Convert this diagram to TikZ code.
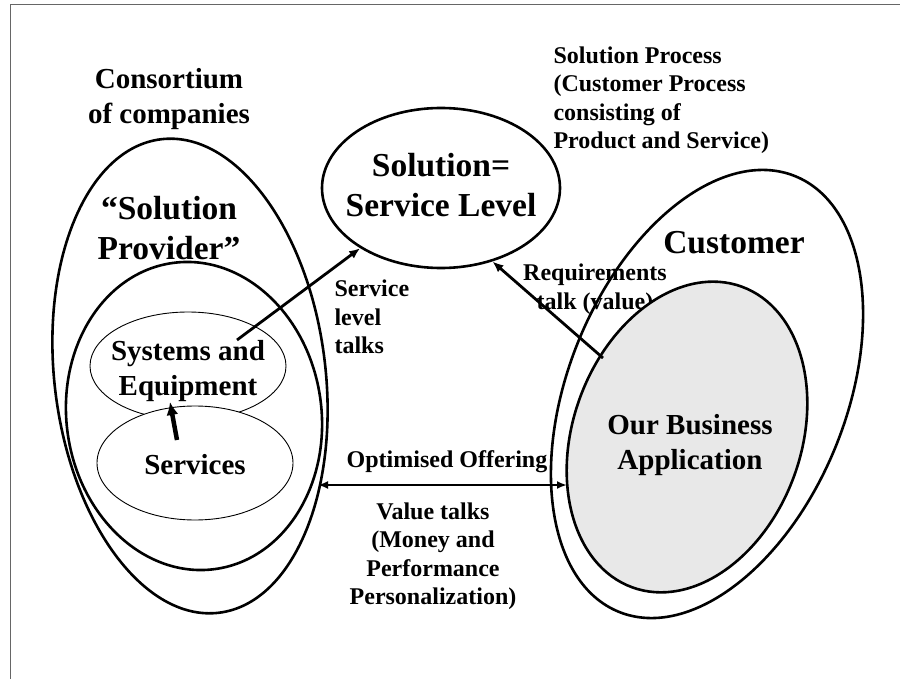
\documentclass[tikz,border=0pt]{standalone}
\usepackage{fontspec}
\setmainfont{Liberation Serif}
\usepackage{tikz}
\usetikzlibrary{shapes.geometric, arrows.meta}
\tikzstyle{bigset} =
[ellipse, inner sep=0pt, draw=black, line width=2.6pt]
\tikzstyle{smallset} =
[ellipse, inner sep=0pt, draw=black, line width=0.9pt, fill=white]
\tikzstyle{bigtext} =
[font=\fontsize{33.5}{40}\selectfont\bfseries, align=center]
\tikzstyle{midtext} =
[font=\fontsize{29}{35}\selectfont\bfseries, align=center]
\tikzstyle{talktext} =
[font=\fontsize{24}{28.5}\selectfont\bfseries, align=left]
\tikzstyle{line} = [draw, line width=2.8pt, -{Latex[length=11pt, width=9pt]}]

\begin{document}
\begin{tikzpicture}[x=1pt, y=1pt]
  \useasboundingbox (0,0) rectangle (900,-679);
  \draw [black!60, line width=1pt] (10,-679) |- (900,-5);
  % provider side
  \node [bigset, minimum width=271pt, minimum height=477pt, rotate=7]
   (consortium) at (190,-376) {};
  \node [bigset, minimum width=255pt, minimum height=309pt, rotate=8]
   (provider) at (194,-416) {};
  \node [smallset, minimum width=196pt, minimum height=108pt]
   (sysequip) at (188,-366) {};
  \node [smallset, minimum width=196pt, minimum height=114pt]
   (services) at (195,-463) {};
  \node [midtext] (consortiumtext) at (169,-99) {Consortium\\of companies};
  \node [bigtext] (providertext) at (169,-228) {``Solution\\Provider''};
  \node [midtext] (sysequiptext) at (188,-371) {Systems and\\Equipment};
  \node [midtext] (servicestext) at (195,-465) {Services};
  % solution in the middle
  \node [bigset, minimum width=238pt, minimum height=160pt]
   (solution) at (441,-188) {};
  \node [bigtext] (solutiontext) at (441,-185) {Solution=\\Service Level};
  % customer side
  \node [talktext] (requirements) at (595,-289)
   {\hfil Requirements\hfil\\\hfil talk (value)\hfil};
  \node [bigset, minimum width=278pt, minimum height=470pt, rotate=-22]
   (customer) at (707,-394) {};
  \node [bigset, fill=black!9, minimum width=228pt, minimum height=320pt,
   rotate=-20] (business) at (687,-437) {};
  \node [bigtext] (customertext) at (734,-243) {Customer};
  \node [midtext] (businesstext) at (690,-445) {Our Business\\Application};
  % talks
  \node [talktext, anchor=west] (process) at (550,-100)
   {Solution Process\\(Customer Process\\consisting of\\Product and Service)};
  \node [talktext, anchor=west] (sltalks) at (331,-317)
   {Service\\level\\talks};
  \node [talktext] (offering) at (447,-462) {Optimised Offering};
  \node [talktext, align=center] (valuetalks) at (433,-556)
   {Value talks\\(Money and\\Performance\\Personalization)};
  % arrows
  \coordinate (slstart) at (237,-340);
  \coordinate (svcstart) at (177,-440);
  \coordinate (svcend) at (170,-402);
  \coordinate (reqstart) at (603,-358);
  \coordinate (offerleft) at (318,-485);
  \coordinate (offerright) at (567,-485);
  \path [line] (slstart) -- (solution);
  \path [line, line width=4.5pt, -{Latex[length=13pt, width=12pt]}]
   (svcstart) -- (svcend);
  \path [line] (reqstart) -- (solution.-55);
  \path [line, line width=2.5pt,
   {Latex[length=10pt, width=8pt]}-{Latex[length=10pt, width=8pt]}]
   (offerleft) -- (offerright);
\end{tikzpicture}
\end{document}
